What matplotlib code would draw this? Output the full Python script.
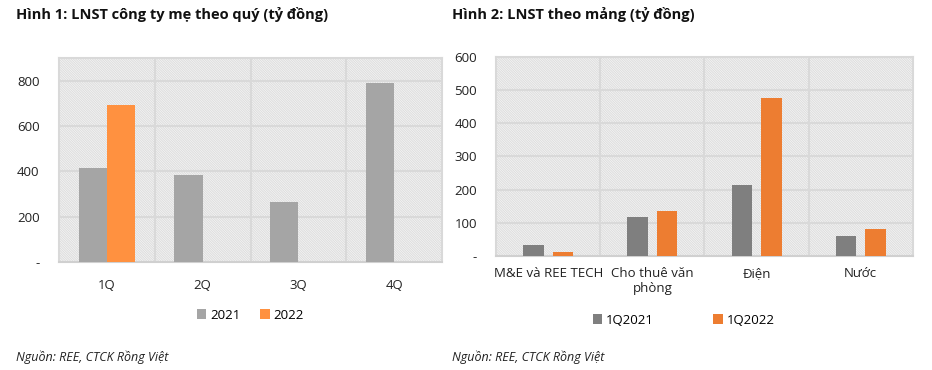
import numpy as np
import matplotlib
matplotlib.use("Agg")
import matplotlib.pyplot as plt
from matplotlib.patches import Rectangle

plt.rcParams['font.family'] = ['Open Sans', 'DejaVu Sans']
plt.rcParams['hatch.color'] = '#DEDEDE'
plt.rcParams['hatch.linewidth'] = 0.8

# Hinh 1 data
quarters = ['1Q', '2Q', '3Q', '4Q']
lnst_2021 = [415, 384, 263, 791]
lnst_2022 = [693, 0, 0, 0]

# Hinh 2 data
segments = ['M&E và REE TECH', 'Cho thuê văn\nphòng', 'Điện', 'Nước']
seg_1q2021 = [33, 117, 214, 60]
seg_1q2022 = [11, 135, 476, 80]

fig = plt.figure(figsize=(9.32, 3.70), dpi=100)

grid_c = '#D9D9D9'


def style_axes(ax, ymax, step, ncat):
    ax.set_xlim(0, ncat)
    ax.set_ylim(0, ymax)
    # hatched plot area
    ax.add_patch(Rectangle((0, 0), 1, 1, transform=ax.transAxes, facecolor='#FAFAFA',
                           hatch='\\' * 14, edgecolor='#DEDEDE', linewidth=0, zorder=0))
    for y in np.arange(step, ymax + 1, step):
        ax.axhline(y, color=grid_c, lw=1.5, zorder=1)
    for x in range(1, ncat):
        ax.axvline(x, color=grid_c, lw=1.5, zorder=1)
    for s in ax.spines.values():
        s.set_color(grid_c)
        s.set_linewidth(1.5)
    ax.spines['bottom'].set_color('#D0D0D0')
    ax.tick_params(length=0, labelsize=9.5, colors='#222222')
    ticks = np.arange(0, ymax + 1, step)
    ax.set_yticks(ticks)
    ax.set_yticklabels(['-' if t == 0 else str(int(t)) for t in ticks])
    ax.set_xticks(np.arange(ncat) + 0.5)


# --- Chart 1 ---
ax1 = fig.add_axes([0.0633, 0.2919, 0.411, 0.5513])
style_axes(ax1, 900, 200, 4)
ax1.set_yticks([0, 200, 400, 600, 800])
ax1.set_yticklabels(['-', '200', '400', '600', '800'])
x = np.arange(4) + 0.5
ax1.bar(x - 0.147, lnst_2021, width=0.294, color='#A5A5A5', zorder=3, label='2021')
ax1.bar(x + 0.147, lnst_2022, width=0.294, color='#FF9140', zorder=3, label='2022')
ax1.set_xticklabels(quarters)
ax1.tick_params(axis='x', pad=12)
ax1.tick_params(axis='y', pad=14)
ax1.legend(loc='upper center', bbox_to_anchor=(0.5, -0.17), ncol=2, frameon=False,
           fontsize=9.5, handlelength=0.7, handleheight=0.7, columnspacing=1.5,
           handletextpad=0.3)

# --- Chart 2 ---
ax2 = fig.add_axes([0.5325, 0.3081, 0.4468, 0.5387])
style_axes(ax2, 600, 100, 4)
ax2.bar(x - 0.14, seg_1q2021, width=0.2, color='#7F7F7F', zorder=3, label='1Q2021')
ax2.bar(x + 0.14, seg_1q2022, width=0.2, color='#ED7D31', zorder=3, label='1Q2022')
ax2.set_xticklabels(segments, linespacing=1.2, va='top')
ax2.tick_params(axis='x', pad=8)
ax2.tick_params(axis='y', pad=14)
ax2.legend(loc='upper center', bbox_to_anchor=(0.45, -0.23), ncol=2, frameon=False,
           fontsize=9.5, handlelength=0.7, handleheight=0.7, columnspacing=4.5,
           handletextpad=0.3)

# titles and sources
fig.text(0.017, 0.96, 'Hình 1: LNST công ty mẹ theo quý (tỷ đồng)', fontsize=10.5,
         fontweight='bold', va='center', ha='left', color='#111111')
fig.text(0.4855, 0.96, 'Hình 2: LNST theo mảng (tỷ đồng)', fontsize=10.5,
         fontweight='bold', va='center', ha='left', color='#111111')
fig.text(0.017, 0.035, 'Nguồn: REE, CTCK Rồng Việt', fontsize=9, style='italic',
         va='center', ha='left', color='#222222')
fig.text(0.4855, 0.035, 'Nguồn: REE, CTCK Rồng Việt', fontsize=9, style='italic',
         va='center', ha='left', color='#222222')

fig.savefig('out.png', dpi=100)
